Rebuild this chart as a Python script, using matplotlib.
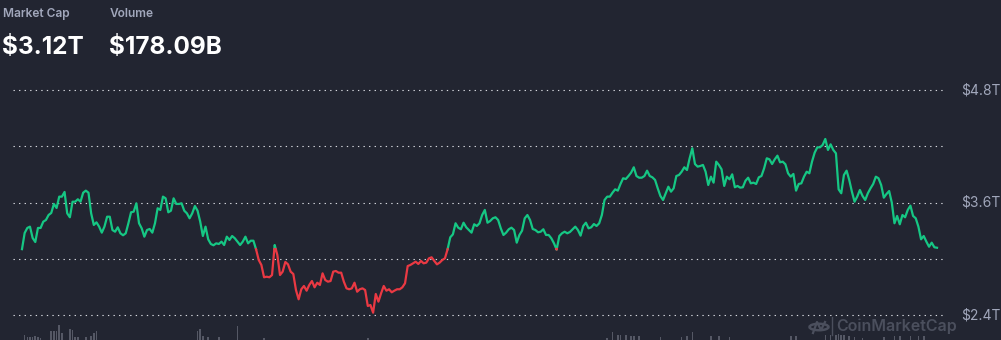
import numpy as np
import matplotlib
matplotlib.use("Agg")
import matplotlib.pyplot as plt
from matplotlib.patches import Circle

# ---------------- data ----------------
header_labels = ["Market Cap", "Volume"]
header_values = ["$3.12T", "$178.09B"]

y_ticks = [2.4, 3.0, 3.6, 4.2, 4.8]
y_tick_labels = ["$2.4T", "", "$3.6T", "", "$4.8T"]
grid_levels = [2.4, 3.0, 3.6, 4.2, 4.8]

# daily market cap, trillions USD
market_cap = [
    3.105, 3.277, 3.331, 3.345, 3.224, 3.181, 3.331, 3.331, 3.398, 3.416,
    3.469, 3.491, 3.587, 3.544, 3.665, 3.665, 3.715, 3.487, 3.445, 3.611,
    3.611, 3.637, 3.611, 3.707, 3.729, 3.707, 3.487, 3.363, 3.391, 3.345,
    3.281, 3.345, 3.451, 3.451, 3.309, 3.291, 3.338, 3.274, 3.253, 3.274,
    3.381, 3.498, 3.505, 3.594, 3.381, 3.327, 3.238, 3.309, 3.320, 3.281,
    3.381, 3.541, 3.523, 3.665, 3.647, 3.498, 3.515, 3.647, 3.587, 3.587,
    3.594, 3.515, 3.487, 3.434, 3.487, 3.565, 3.515, 3.398, 3.245, 3.345,
    3.210, 3.160, 3.146, 3.167, 3.160, 3.185, 3.149, 3.238, 3.203, 3.245,
    3.221, 3.185, 3.149, 3.185, 3.238, 3.167, 3.195, 3.195, 3.103, 2.989,
    2.936, 2.805, 2.811, 2.805, 2.829, 3.149, 3.043, 2.829, 2.865, 2.968,
    2.943, 2.865, 2.840, 2.669, 2.570, 2.677, 2.712, 2.662, 2.723, 2.765,
    2.698, 2.747, 2.723, 2.847, 2.776, 2.758, 2.765, 2.865, 2.872, 2.854,
    2.854, 2.758, 2.687, 2.677, 2.687, 2.747, 2.651, 2.677, 2.687, 2.669,
    2.499, 2.509, 2.427, 2.627, 2.545, 2.634, 2.712, 2.662, 2.677, 2.645,
    2.662, 2.677, 2.677, 2.698, 2.741, 2.925, 2.936, 2.954, 2.971, 2.947,
    2.979, 2.954, 2.961, 3.007, 3.018, 2.979, 2.943, 2.961, 2.989, 3.007,
    3.103, 3.231, 3.263, 3.381, 3.334, 3.317, 3.387, 3.338, 3.309, 3.281,
    3.370, 3.352, 3.381, 3.469, 3.523, 3.387, 3.405, 3.434, 3.445, 3.416,
    3.327, 3.256, 3.281, 3.317, 3.334, 3.309, 3.174, 3.256, 3.302, 3.434,
    3.469, 3.416, 3.320, 3.309, 3.285, 3.291, 3.317, 3.256, 3.256, 3.221,
    3.167, 3.100, 3.245, 3.274, 3.291, 3.274, 3.288, 3.317, 3.345, 3.309,
    3.249, 3.352, 3.387, 3.327, 3.338, 3.373, 3.352, 3.381, 3.469, 3.629,
    3.665, 3.665, 3.707, 3.743, 3.729, 3.800, 3.861, 3.853, 3.885, 3.921,
    3.978, 3.885, 3.867, 3.867, 3.885, 3.942, 3.885, 3.871, 3.843, 3.754,
    3.672, 3.629, 3.701, 3.771, 3.718, 3.754, 3.885, 3.896, 3.931, 3.978,
    3.949, 4.074, 4.181, 4.013, 3.985, 3.992, 4.003, 3.931, 3.789, 3.878,
    3.814, 4.038, 4.003, 3.957, 3.779, 3.878, 3.850, 3.903, 3.765, 3.779,
    3.761, 3.765, 3.835, 3.867, 3.807, 3.814, 3.800, 3.871, 3.885, 3.967,
    4.074, 4.063, 4.013, 4.063, 4.102, 4.031, 4.038, 4.010, 3.914, 3.878,
    3.907, 3.729, 3.800, 3.807, 3.878, 3.931, 3.914, 4.038, 4.134, 4.191,
    4.191, 4.216, 4.280, 4.163, 4.223, 4.163, 4.127, 3.743, 3.701, 3.896,
    3.942, 3.843, 3.718, 3.611, 3.665, 3.736, 3.672, 3.629, 3.701, 3.754,
    3.800, 3.878, 3.861, 3.789, 3.654, 3.693, 3.725, 3.601, 3.381, 3.459,
    3.370, 3.469, 3.445, 3.523, 3.569, 3.459, 3.434, 3.345, 3.210, 3.245,
    3.185, 3.131, 3.174, 3.125, 3.120,
]

# visible daily volume spikes (day index, arbitrary billions)
volume_days = [1, 2, 3, 4, 5, 6, 7, 11, 12, 13, 14, 15, 18, 19, 20, 21, 24,
               26, 27, 28, 66, 67, 68, 70, 74, 81, 91, 130, 220, 222, 224,
               225, 227, 229, 230, 232, 240, 248, 250, 252, 259, 262, 266,
               289, 291, 302, 304, 306, 307, 308, 309, 311, 313, 316, 324,
               328, 330, 334, 337, 339]
volume_values = [40, 30, 30, 28, 32, 30, 26, 55, 55, 55, 80, 45, 62, 60, 30,
                 30, 28, 35, 45, 55, 55, 62, 33, 28, 28, 75, 25, 25, 25, 52,
                 40, 38, 38, 35, 36, 35, 28, 30, 35, 50, 35, 33, 28, 35, 33,
                 40, 38, 40, 42, 38, 40, 35, 28, 26, 30, 35, 34, 36, 35, 35]

# ---------------- style ----------------
BG = "#222531"
GREEN = "#16c784"
RED = "#ea3943"
LABEL = "#a1a7bb"
GRID = "#eef0f5"
VOL = "#555865"
WM = "#4b4f5d"

plt.rcParams["font.family"] = ["Inter", "DejaVu Sans"]

W, H = 1001, 340
fig = plt.figure(figsize=(W / 100, H / 100), dpi=100, facecolor=BG)

ax_left, ax_right = 13, 945
ax_top, ax_bot = 80, 340
ax = fig.add_axes([ax_left / W, 1 - ax_bot / H, (ax_right - ax_left) / W, (ax_bot - ax_top) / H])
ax.set_facecolor("none")
for s in ax.spines.values():
    s.set_visible(False)

n = len(market_cap)
x = np.arange(n)
y = np.array(market_cap)
base = y[0]

# insert crossing points at the baseline so colours switch cleanly
xs, ys = [x[0]], [y[0]]
for i in range(1, n):
    y0, y1 = y[i - 1], y[i]
    if (y0 - base) * (y1 - base) < 0:
        t = (base - y0) / (y1 - y0)
        xs.append(x[i - 1] + t)
        ys.append(base)
    xs.append(x[i])
    ys.append(y1)
xs = np.array(xs)
ys = np.array(ys)
above = np.where(ys >= base - 1e-9, ys, np.nan)
below = np.where(ys <= base + 1e-9, ys, np.nan)

# volume bars on a twin axis
axv = ax.twinx()
axv.set_facecolor("none")
for s in axv.spines.values():
    s.set_visible(False)
axv.bar(volume_days, volume_values, width=0.6, color=VOL, linewidth=0, zorder=1)
axv.set_ylim(17, 1118)
axv.set_yticks([])
axv.set_zorder(0)
ax.set_zorder(1)

for g in grid_levels:
    ax.axhline(g, color=GRID, lw=0.8, dashes=(1.2, 3.8), dash_capstyle="butt",
               alpha=0.9, zorder=1)

ax.plot(xs, above, color=GREEN, lw=1.6, solid_joinstyle="round", zorder=3)
ax.plot(xs, below, color=RED, lw=1.6, solid_joinstyle="round", zorder=3)

ax.set_xlim(-3.38, 347.0)
ax.set_ylim(2.136, 4.909)
ax.set_xticks([])
ax.set_yticks([])

# right axis labels
for v, lab in zip(y_ticks, y_tick_labels):
    if lab:
        ypx = 259 - (v - 3.0) / 0.6 * 56.25
        fig.text(961 / W, 1 - ypx / H, lab, color=LABEL, fontsize=10,
                 ha="left", va="center")

# header
fig.text(3 / W, 1 - 14 / H, header_labels[0], color=LABEL, fontsize=8.6,
         fontweight="semibold", ha="left", va="center")
fig.text(110 / W, 1 - 14 / H, header_labels[1], color=LABEL, fontsize=8.6,
         fontweight="semibold", ha="left", va="center")
fig.text(2 / W, 1 - 54 / H, header_values[0], color="white", fontsize=17.5,
         fontweight="bold", ha="left", va="baseline")
fig.text(109 / W, 1 - 54 / H, header_values[1], color="white", fontsize=17.5,
         fontweight="bold", ha="left", va="baseline")

# watermark
fig.text(836 / W, 1 - 326 / H, "CoinMarketCap", color=WM, fontsize=11.5,
         fontweight="semibold", ha="left", va="center")
fig.patches.append(Circle((819 / W, 1 - 327 / H), 9.5 / W, transform=fig.transFigure,
                          fill=False, edgecolor=WM, lw=1.8))
fig.lines.append(plt.Line2D([813 / W, 817 / W, 821 / W, 825 / W],
                            [1 - 333 / H, 1 - 322 / H, 1 - 330 / H, 1 - 322 / H],
                            transform=fig.transFigure, color=WM, lw=1.6))
fig.lines.append(plt.Line2D([832 / W, 832 / W], [1 - 317 / H, 1 - 335 / H],
                            transform=fig.transFigure, color=WM, lw=1))

fig.savefig("out.png", dpi=100, facecolor=BG)
